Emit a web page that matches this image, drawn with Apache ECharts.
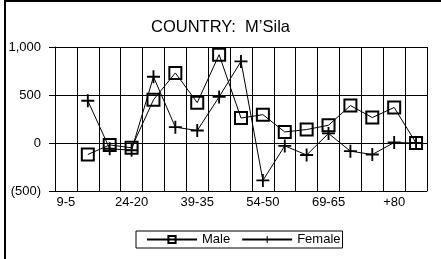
<!DOCTYPE html>
<html>
<head>
<meta charset="utf-8">
<script src="https://cdn.jsdelivr.net/npm/echarts@6/dist/echarts.min.js"></script>
<style>
  html, body { margin: 0; padding: 0; background: #fff; }
  #chart { width: 441px; height: 259px; }
</style>
</head>
<body>
<div id="chart"></div>
<script>
// age groups, the first one has no value in the source chart
const categories = ['9-5', '14-10', '19-15', '24-20', '29-25', '34-30', '39-35', '44-40', '49-45',
  '54-50', '59-55', '64-60', '69-65', '74-70', '79-75', '+80', ''];
const male = [null, -120, -20, -50, 450, 730, 420, 920, 260, 295, 115, 140, 185, 390, 265, 370, 0];
const female = [null, 440, -60, -75, 690, 165, 130, 480, 850, -390, -30, -125, 100, -85, -120, 5, 0];
const yTicks = [-500, 0, 500, 1000];

const plus = 'path://M6,0H8V6H14V8H8V14H6V8H0V6H6Z';
const font = 'Liberation Sans';

function fmt(v) {
  if (v < 0) return '(' + Math.abs(v).toLocaleString('en-US') + ')';
  return v.toLocaleString('en-US');
}

const chart = echarts.init(document.getElementById('chart'));

chart.setOption({
  animation: false,
  backgroundColor: '#fff',
  title: {
    text: 'COUNTRY:  M\u2019Sila',
    left: 'center',
    top: 14,
    textStyle: { fontFamily: font, fontSize: 16.5, fontWeight: 'normal', color: '#000' }
  },
  graphic: [{
    type: 'rect',
    shape: { x: 5, y: 1, width: 600, height: 400 },
    style: { fill: 'none', stroke: '#000', lineWidth: 2 },
    silent: true
  }],
  legend: {
    bottom: 11,
    left: 136,
    itemWidth: 50,
    itemHeight: 9,
    itemGap: 11,
    padding: [2, 2, 2, 10],
    borderColor: '#000',
    borderWidth: 1,
    textStyle: { fontFamily: font, fontSize: 13, color: '#000' },
    data: ['Male', 'Female']
  },
  grid: { left: 55, right: 14, top: 47, bottom: 68 },
  xAxis: {
    type: 'category',
    data: categories,
    boundaryGap: true,
    axisLine: { show: true, onZero: false, lineStyle: { color: '#000', width: 1 } },
    axisTick: { show: false },
    axisLabel: { interval: 2, margin: 5, fontFamily: font, fontSize: 13, color: '#000' },
    splitLine: { show: true, interval: 0, lineStyle: { color: '#000', width: 1 } }
  },
  yAxis: {
    type: 'value',
    min: yTicks[0],
    max: yTicks[yTicks.length - 1],
    interval: 500,
    axisLine: { show: true, lineStyle: { color: '#000', width: 1 } },
    axisTick: { show: true, length: 6, lineStyle: { color: '#000' } },
    axisLabel: { margin: 14, fontFamily: font, fontSize: 13, color: '#000', formatter: fmt },
    splitLine: { show: true, lineStyle: { color: '#000', width: 1 } }
  },
  series: [
    {
      name: 'Male',
      type: 'line',
      data: male,
      symbol: 'rect',
      symbolSize: 12,
      showAllSymbol: true,
      lineStyle: { color: '#000', width: 1 },
      itemStyle: { color: 'transparent', borderColor: '#000', borderWidth: 2 }
    },
    {
      name: 'Female',
      type: 'line',
      data: female,
      symbol: plus,
      symbolSize: 13,
      showAllSymbol: true,
      lineStyle: { color: '#000', width: 1 },
      itemStyle: { color: '#000' }
    }
  ]
});
</script>
</body>
</html>
